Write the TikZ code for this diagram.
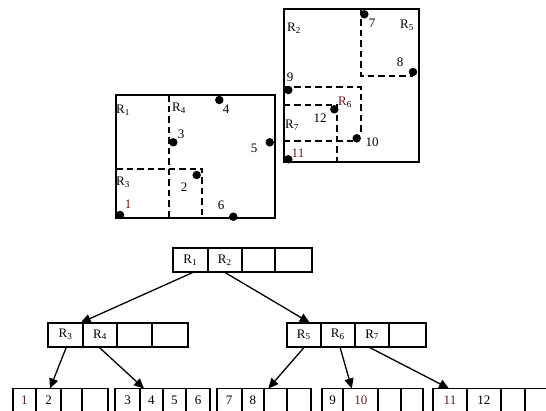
\documentclass[tikz,border=0pt]{standalone}
\usepackage{fontspec}
\setmainfont{Liberation Serif}
\usetikzlibrary{arrows.meta,calc}
\definecolor{tred}{HTML}{6E1A1A}
\begin{document}
\begin{tikzpicture}[x=1pt,y=-1pt,
  frame/.style={line width=2pt},
  part/.style={line width=2pt,dash pattern=on 6.5pt off 4pt},
  dot/.style={circle,fill=black,inner sep=0pt,minimum size=8.5pt},
  lab/.style={inner sep=0pt,font=\fontsize{13}{15}\selectfont},
  cell/.style={draw,line width=1.9pt,anchor=north west,inner sep=0pt,outer sep=0pt,
    minimum height=24pt,font=\fontsize{13}{15}\selectfont},
  link/.style={line width=1.3pt,-{Triangle[length=10pt,width=9pt]}}]
\useasboundingbox (0,0) rectangle (546,410);
\clip (0,0) rectangle (546,410);

% ---------- left region map ----------
\draw[frame] (116,95) rectangle (275,217.5);
\draw[part] (169,95) -- (169,217.5);
\draw[part] (116,168.5) -- (202,168.5) -- (202,217.5);
\node[dot] (p1) at (120,215) {};
\node[dot] (p2) at (196.7,175) {};
\node[dot] (p3) at (173.3,142.3) {};
\node[dot] (p4) at (219.3,100) {};
\node[dot] (p5) at (269.7,142.3) {};
\node[dot] (p6) at (233.3,216.7) {};
\node[lab] (lR1) at (123,110) {R\textsubscript{1}};
\node[lab] (lR4) at (179,108) {R\textsubscript{4}};
\node[lab] (lR3) at (123,182) {R\textsubscript{3}};
\node[lab] (l4) at (226,109) {4};
\node[lab] (l3) at (181,134) {3};
\node[lab] (l5) at (254,148) {5};
\node[lab] (l2) at (184,187) {2};
\node[lab,text=tred] (l1) at (128,204) {1};
\node[lab] (l6) at (221,205) {6};

% ---------- right region map ----------
\draw[frame] (283.5,8.5) rectangle (419,162);
\draw[part] (361,8.5) -- (361,75.5) -- (413,75.5);
\draw[part] (283.5,87) -- (361,87) -- (361,135);
\draw[part] (283.5,105) -- (337,105) -- (337,162);
\draw[part] (283.5,141) -- (356,141);
\node[dot] (p7) at (364.3,14.3) {};
\node[dot] (p8) at (413,72) {};
\node[dot] (p9) at (288.3,90) {};
\node[dot] (p12) at (334.3,109.3) {};
\node[dot] (p10) at (356.7,138.3) {};
\node[dot] (p11) at (288.3,159.3) {};
\node[lab] (lR2) at (294,28) {R\textsubscript{2}};
\node[lab] (l7) at (372,23) {7};
\node[lab] (lR5) at (407,25) {R\textsubscript{5}};
\node[lab] (l8) at (400,62) {8};
\node[lab] (l9) at (290,77) {9};
\node[lab] (lR6) at (345,102) {\textcolor{tred}{R}\textsubscript{6}};
\node[lab] (l12) at (320,118) {12};
\node[lab] (lR7) at (292,125) {R\textsubscript{7}};
\node[lab] (l10) at (372,142) {10};
\node[lab,text=tred] (l11) at (298,153) {11};

% ---------- tree: root ----------
\node[cell,minimum width=35pt] (r1) at (172.7,248.3) {R\textsubscript{1}};
\node[cell,minimum width=34pt] (r2) at (207.7,248.3) {R\textsubscript{2}};
\node[cell,minimum width=33.3pt] (r3) at (241.7,248.3) {};
\node[cell,minimum width=37.3pt] (r4) at (275,248.3) {};

% ---------- tree: level 2 ----------
\node[cell,minimum width=34.4pt] (a1) at (48.3,322.7) {R\textsubscript{3}};
\node[cell,minimum width=34.6pt] (a2) at (82.7,322.7) {R\textsubscript{4}};
\node[cell,minimum width=34.4pt] (a3) at (117.3,322.7) {};
\node[cell,minimum width=36pt] (a4) at (151.7,322.7) {};

\node[cell,minimum width=34pt] (b1) at (286.7,322.7) {R\textsubscript{5}};
\node[cell,minimum width=34.3pt] (b2) at (320.7,322.7) {R\textsubscript{6}};
\node[cell,minimum width=34.3pt] (b3) at (355,322.7) {R\textsubscript{7}};
\node[cell,minimum width=36.4pt] (b4) at (389.3,322.7) {};

% ---------- tree: leaves ----------
\node[cell,minimum width=23.3pt,text=tred] (c1) at (12.7,388.5) {1};
\node[cell,minimum width=25pt] (c2) at (36,388.5) {2};
\node[cell,minimum width=21.3pt] (c3) at (61,388.5) {};
\node[cell,minimum width=26pt] (c4) at (82.3,388.5) {};

\node[cell,minimum width=25pt] (d1) at (115,388.5) {3};
\node[cell,minimum width=22.7pt] (d2) at (140,388.5) {4};
\node[cell,minimum width=23.3pt] (d3) at (162.7,388.5) {5};
\node[cell,minimum width=24pt] (d4) at (186,388.5) {6};

\node[cell,minimum width=25pt] (e1) at (216.7,388.5) {7};
\node[cell,minimum width=22.3pt] (e2) at (241.7,388.5) {8};
\node[cell,minimum width=22.7pt] (e3) at (264,388.5) {};
\node[cell,minimum width=24.3pt] (e4) at (286.7,388.5) {};

\node[cell,minimum width=21.6pt] (f1) at (321.7,388.5) {9};
\node[cell,minimum width=35pt,text=tred] (f2) at (343.3,388.5) {10\hspace{8pt}};
\node[cell,minimum width=22.4pt] (f3) at (378.3,388.5) {};
\node[cell,minimum width=22.6pt] (f4) at (400.7,388.5) {};

\node[cell,minimum width=33.4pt,text=tred] (g1) at (433.3,388.5) {11};
\node[cell,minimum width=34.3pt] (g2) at (466.7,388.5) {12};
\node[cell,minimum width=24pt] (g3) at (501,388.5) {};
\node[cell,minimum width=33pt] (g4) at (525,388.5) {};

% ---------- connectors ----------
\draw[link] ($(r1.south)+(3,0)$) -- ($(a2.north west)+(-2,0)$);
\draw[link] (r2.south) -- ($(b1.north)+(6,0)$);
\draw[link] ($(a1.south)+(1,0)$) -- ($(c2.north)+(1.5,0)$);
\draw[link] ($(a2.south)+(-1.5,0)$) -- ($(d2.north west)+(4,0)$);
\draw[link] ($(b1.south)+(1,0)$) -- ($(e3.north)+(-7,0)$);
\draw[link] ($(b2.south)+(2,0)$) -- ($(f2.north)+(-9,0)$);
\draw[link] ($(b3.south)+(-4,0)$) -- ($(g1.north)+(-1,0)$);
\end{tikzpicture}
\end{document}
